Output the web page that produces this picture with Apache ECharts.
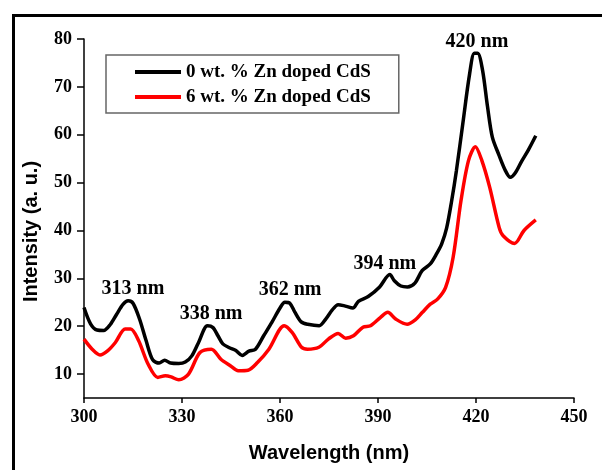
<!DOCTYPE html>
<html>
<head>
<meta charset="utf-8">
<script src="https://cdn.jsdelivr.net/npm/echarts@6/dist/echarts.min.js"></script>
<style>html,body{margin:0;padding:0;background:#fff;}#c{width:602px;height:470px;}</style>
</head>
<body>
<div id="c"></div>
<script>
var seriesNames = ['0 wt. % Zn doped CdS', '6 wt. % Zn doped CdS'];
var xTicks = [300, 330, 360, 390, 420, 450];
var yTicks = [10, 20, 30, 40, 50, 60, 70, 80];

var black = [
  [300,23.9],[302,20.5],[304,19.2],[306,19.1],[308,20.3],[310,22.5],[312,24.6],[313.5,25.3],[315,24.8],
  [317,21.5],[319,17.0],[321,13.0],[323,12.3],[324.7,12.9],[326.5,12.3],[329,12.2],[331,12.5],[333,13.8],
  [335,16.5],[337.8,20.1],[339.5,19.7],[341,18.0],[342.5,16.3],[344.5,15.5],[346.5,14.9],[348.4,13.9],
  [350.5,14.8],[352.5,15.2],[355,18.0],[357.5,20.8],[360,23.8],[361.5,25.0],[363,24.8],[364.5,23.0],
  [366.5,20.9],[368.5,20.4],[372,20.1],[374,21.5],[376,23.4],[377.8,24.5],[380,24.2],[382.3,23.8],
  [384,25.2],[387,26.2],[390.5,28.2],[393.6,30.8],[395,29.5],[397,28.4],[399,28.2],[401.3,29.0],
  [403.5,31.6],[406,33.0],[408,35.2],[409.5,37.2],[411,40.5],[412.5,46],[414,52.5],[416,62.5],[418,72.5],
  [419.5,77.0],[420.5,77.0],[422,73.5],[423.5,66],[425,59.5],[427,55.8],[429,52.5],[430.5,51.1],[432,52.0],
  [434,54.5],[436,56.8],[438.3,59.8]
];
var red = [
  [300,17.3],[302.5,15.2],[304.9,14.0],[307.3,14.9],[309.6,16.6],[312.6,19.4],[314.3,19.4],[316.7,17.0],
  [319.6,12.1],[322.6,9.3],[324.9,9.65],[326.7,9.4],[329,8.8],[332,10.0],[335.5,14.5],[339,15.2],
  [341.9,13.1],[344.9,11.7],[347.2,10.7],[350.2,10.8],[353.1,12.4],[356.6,15.2],[361.3,20.1],[363.7,18.7],
  [366.6,15.6],[368.4,15.2],[371.9,15.6],[374.8,17.3],[377.8,18.5],[380.1,17.5],[382.5,18.0],[385.4,19.8],
  [387.7,20.1],[390.7,21.8],[393,22.9],[395.4,21.5],[398.9,20.4],[401.4,21.3],[403.6,22.9],[406,24.6],
  [408.3,25.7],[410.7,28.1],[413,34.4],[415.4,46.2],[417.7,54.6],[419.8,57.5],[421.8,54.6],[424.2,49.0],
  [427.1,40.6],[428.3,38.9],[431.8,37.3],[434.7,40.0],[438.3,42.2]
];
var annotations = [
  [315.0, 27.8, '313 nm'],
  [338.9, 22.6, '338 nm'],
  [363.1, 27.6, '362 nm'],
  [392.1, 33.0, '394 nm'],
  [420.3, 79.4, '420 nm']
];

var serif = '"Liberation Serif","Times New Roman",serif';
var sans = '"Liberation Sans",Arial,sans-serif';
var chart = echarts.init(document.getElementById('c'), null, {renderer: 'canvas'});
chart.setOption({
  backgroundColor: '#ffffff',
  animation: false,
  graphic: [{
    type: 'rect', left: 11, top: 13, shape: {x: 0, y: 0, width: 620, height: 500},
    style: {fill: 'none', stroke: '#000', lineWidth: 3}, silent: true
  }],
  grid: {left: 84, top: 39, width: 490, height: 359},
  legend: {
    orient: 'vertical', left: 106, top: 55,
    padding: [7, 28, 6, 29], itemGap: 5, itemWidth: 46, itemHeight: 4,
    borderColor: '#666', borderWidth: 1.5,
    textStyle: {fontFamily: serif, fontWeight: 'bold', fontSize: 19, color: '#000', lineHeight: 20},
    data: [{name: seriesNames[0], icon: 'rect'}, {name: seriesNames[1], icon: 'rect'}]
  },
  xAxis: {
    type: 'value', min: 300, max: 450, interval: 30,
    name: 'Wavelength (nm)', nameLocation: 'middle', nameGap: 45,
    nameTextStyle: {fontFamily: sans, fontWeight: 'bold', fontSize: 20, color: '#000'},
    axisLine: {show: true, lineStyle: {color: '#000', width: 1.5}},
    axisTick: {show: true, length: 5, lineStyle: {color: '#000', width: 1.5}, customValues: xTicks},
    axisLabel: {fontFamily: serif, fontWeight: 'bold', fontSize: 18, color: '#000', margin: 10, customValues: xTicks},
    splitLine: {show: false}
  },
  yAxis: {
    type: 'value', min: 5, max: 80, interval: 5,
    name: 'Intensity (a. u.)', nameLocation: 'middle', nameGap: 43,
    nameTextStyle: {fontFamily: sans, fontWeight: 'bold', fontSize: 20, color: '#000', padding: [0, 26, 0, 0]},
    axisLine: {show: true, lineStyle: {color: '#000', width: 1.5}},
    axisTick: {show: true, length: 7, lineStyle: {color: '#000', width: 1.5}, customValues: yTicks},
    axisLabel: {fontFamily: serif, fontWeight: 'bold', fontSize: 18, color: '#000', margin: 12, customValues: yTicks},
    splitLine: {show: false}
  },
  series: [
    {name: seriesNames[0], type: 'line', data: black, symbol: 'none', smooth: 0.3,
     lineStyle: {color: '#000', width: 3.5}, itemStyle: {color: '#000'}},
    {name: seriesNames[1], type: 'line', data: red, symbol: 'none', smooth: 0.3,
     lineStyle: {color: '#ff0000', width: 3.5}, itemStyle: {color: '#ff0000'}},
    {type: 'scatter', data: annotations, symbolSize: 0, silent: true, itemStyle: {opacity: 1},
     label: {show: true, position: 'inside', formatter: function (p) { return p.data[2]; },
       fontFamily: serif, fontWeight: 'bold', fontSize: 20, color: '#000', opacity: 1}}
  ]
});
</script>
</body>
</html>
